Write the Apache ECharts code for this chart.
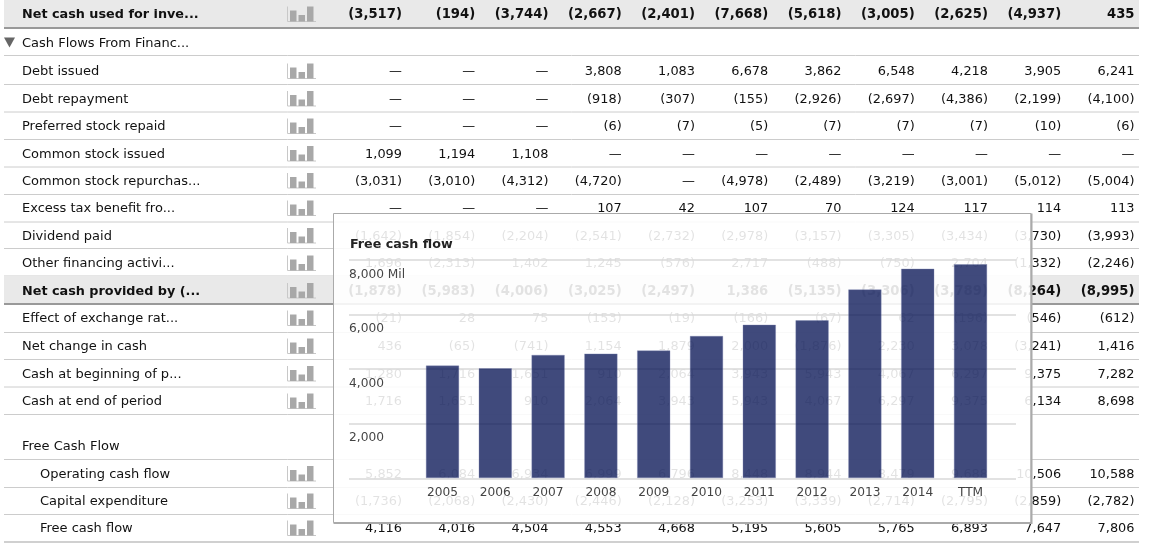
<!DOCTYPE html>
<html>
<head>
<meta charset="utf-8">
<title>Free cash flow</title>
<script src="https://cdn.jsdelivr.net/npm/echarts@6/dist/echarts.min.js"></script>
<style>
html, body { margin: 0; padding: 0; background: #fff; }
#chartBar { width: 1152px; height: 545px; }
</style>
</head>
<body>
<div id="chartBar"></div>
<script>
// periods, one column per year
var periods = ['2005', '2006', '2007', '2008', '2009', '2010', '2011', '2012', '2013', '2014', 'TTM'];

// table rows, null is shown as a dash
var netCashInvesting = [-3517, -194, -3744, -2667, -2401, -7668, -5618, -3005, -2625, -4937, 435];
var debtIssued = [null, null, null, 3808, 1083, 6678, 3862, 6548, 4218, 3905, 6241];
var debtRepayment = [null, null, null, -918, -307, -155, -2926, -2697, -4386, -2199, -4100];
var preferredRepaid = [null, null, null, -6, -7, -5, -7, -7, -7, -10, -6];
var commonIssued = [1099, 1194, 1108, null, null, null, null, null, null, null, null];
var commonRepurchased = [-3031, -3010, -4312, -4720, null, -4978, -2489, -3219, -3001, -5012, -5004];
var excessTaxBenefit = [null, null, null, 107, 42, 107, 70, 124, 117, 114, 113];
var dividendPaid = [-1642, -1854, -2204, -2541, -2732, -2978, -3157, -3305, -3434, -3730, -3993];
var otherFinancing = [1696, -2313, 1402, 1245, -576, 2717, -488, -750, 2704, -1332, -2246];
var netCashProvided = [-1878, -5983, -4006, -3025, -2497, 1386, -5135, -3306, -3789, -8264, -8995];
var exchangeEffect = [-21, 28, 75, -153, -19, -166, -67, 62, -196, -546, -612];
var netChange = [436, -65, -741, 1154, 1879, 2000, -1876, 2230, 3078, -3241, 1416];
var cashBeginning = [1280, 1716, 1651, 910, 2064, 3943, 5943, 4067, 6297, 9375, 7282];
var cashEnd = [1716, 1651, 910, 2064, 3943, 5943, 4067, 6297, 9375, 6134, 8698];
var operatingCashFlow = [5852, 6084, 6934, 6999, 6796, 8448, 8944, 8479, 9688, 10506, 10588];
var capitalExpenditure = [-1736, -2068, -2430, -2446, -2128, -3253, -3339, -2714, -2795, -2859, -2782];
var freeCashFlow = [4116, 4016, 4504, 4553, 4668, 5195, 5605, 5765, 6893, 7647, 7806];

var rowLabels = ['Net cash used for inve...', 'Cash Flows From Financ...', 'Debt issued', 'Debt repayment',
    'Preferred stock repaid', 'Common stock issued', 'Common stock repurchas...', 'Excess tax benefit fro...',
    'Dividend paid', 'Other financing activi...', 'Net cash provided by (...', 'Effect of exchange rat...',
    'Net change in cash', 'Cash at beginning of p...', 'Cash at end of period', 'Free Cash Flow',
    'Operating cash flow', 'Capital expenditure', 'Free cash flow'];
var rowValues = [netCashInvesting, null, debtIssued, debtRepayment, preferredRepaid, commonIssued,
    commonRepurchased, excessTaxBenefit, dividendPaid, otherFinancing, netCashProvided, exchangeEffect,
    netChange, cashBeginning, cashEnd, null, operatingCashFlow, capitalExpenditure, freeCashFlow];

// layout of the table, in pixels
var rowCentres = [14, 42.5, 71, 98.5, 126, 153.5, 180.5, 208, 235.5, 263, 290.5, 318, 346, 373.5, 401, 446, 473.5, 501, 528];
var rowBottoms = [28, 55.5, 84.5, 112, 139.5, 167, 194.5, 222, 248.5, 276, 304, 332.5, 359.5, 387, 414.5, 459.5, 487.5, 514.5, 542];
var textShift = 0.8;
var boldRows = [0, 10];
var indentedRows = [16, 17, 18];
var labelFont = '13px "DejaVu Sans"';
var labelBoldFont = 'bold 12.8px "DejaVu Sans"';
var cellFont = '12.9px "DejaVu Sans"';
var cellBoldFont = 'bold 13.2px "DejaVu Sans"';

function formatCell(v) {
    if (v === null) {
        return '\u2014';
    }
    var s = Math.abs(v).toLocaleString('en-US');
    return v < 0 ? '(' + s + ')' : s;
}

// every table cell as one data item
var cells = [];
rowValues.forEach(function (values, r) {
    if (!values) {
        return;
    }
    values.forEach(function (v, c) {
        cells.push({col: c, row: r, text: formatCell(v)});
    });
});

function renderRow(params, api) {
    var r = params.dataIndex;
    var y = api.coord([0, rowCentres[r]])[1];
    var bottom = api.coord([0, rowBottoms[r]])[1];
    var bold = boldRows.indexOf(r) >= 0;
    var last = r === rowBottoms.length - 1;
    var children = [];
    if (bold) {
        var top = r === 0 ? 0 : api.coord([0, rowBottoms[r - 1]])[1];
        children.push({type: 'rect', shape: {x: 4, y: top, width: 1135, height: bottom - top}, style: {fill: '#e9e9e9'}});
    }
    children.push({
        type: 'line',
        shape: {x1: 4, y1: bottom, x2: 1139, y2: bottom},
        style: {stroke: bold ? '#999' : (last ? '#d0d0d0' : '#ccc'), lineWidth: bold || last ? 2 : 1}
    });
    children.push({
        type: 'text',
        style: {
            x: indentedRows.indexOf(r) >= 0 ? 40 : 22,
            y: y + textShift,
            text: rowLabels[r],
            fill: '#111',
            font: bold ? labelBoldFont : labelFont,
            align: 'left',
            verticalAlign: 'middle'
        }
    });
    if (rowValues[r]) {
        // small chart icon at the row's start
        var base = y + 7.5;
        children.push({type: 'line', shape: {x1: 287.5, y1: base - 15, x2: 287.5, y2: base}, style: {stroke: '#c8c8c8', lineWidth: 1}});
        children.push({type: 'line', shape: {x1: 287.5, y1: base, x2: 316, y2: base}, style: {stroke: '#c8c8c8', lineWidth: 1}});
        children.push({type: 'rect', shape: {x: 290, y: base - 11, width: 6.5, height: 11}, style: {fill: '#a8a8a8'}});
        children.push({type: 'rect', shape: {x: 298.5, y: base - 6.5, width: 6.5, height: 6.5}, style: {fill: '#a8a8a8'}});
        children.push({type: 'rect', shape: {x: 307, y: base - 15, width: 6.5, height: 15}, style: {fill: '#a8a8a8'}});
    } else if (r === 1) {
        children.push({type: 'polygon', shape: {points: [[4, y - 5], [15, y - 5], [9.5, y + 5]]}, style: {fill: '#666'}});
    }
    return {type: 'group', children: children};
}

function renderCell(params, api) {
    var cell = cells[params.dataIndex];
    var p = api.coord([cell.col, rowCentres[cell.row]]);
    var band = api.size([1, 0])[0];
    return {
        type: 'text',
        style: {
            x: p[0] + band / 2,
            y: p[1] + textShift,
            text: cell.text,
            fill: '#111',
            font: boldRows.indexOf(cell.row) >= 0 ? cellBoldFont : cellFont,
            align: 'right',
            verticalAlign: 'middle'
        }
    };
}

var chartBar = echarts.init(document.getElementById('chartBar'));
chartBar.setOption({
    animation: false,
    backgroundColor: '#fff',
    title: {
        text: 'Free cash flow',
        left: 350,
        top: 238.5,
        padding: 0,
        z: 5,
        textStyle: {fontFamily: 'DejaVu Sans', fontSize: 12.7, fontWeight: 'bold', color: '#222'}
    },
    tooltip: {show: false},
    grid: [
        {left: 328.75, right: 17.5, top: 0, bottom: 0},
        {left: 349, right: 136, top: 260, bottom: 66.7},
        {left: 416.1, right: 155.1, top: 258.8, bottom: 66.7}
    ],
    xAxis: [
        {gridIndex: 0, type: 'category', data: periods, show: false},
        {gridIndex: 1, type: 'value', min: 0, max: 1, show: false},
        {
            gridIndex: 2,
            type: 'category',
            data: periods,
            z: 5,
            axisLine: {show: false},
            axisTick: {show: false},
            axisLabel: {interval: 0, margin: 9, color: '#444', fontFamily: 'DejaVu Sans', fontSize: 12.2}
        }
    ],
    yAxis: [
        {gridIndex: 0, type: 'value', min: 0, max: 545, inverse: true, show: false},
        {
            gridIndex: 1,
            type: 'value',
            min: 0,
            max: 8000,
            interval: 2000,
            z: 3,
            axisLine: {show: false},
            axisTick: {show: false},
            splitLine: {show: true, lineStyle: {color: '#d8d8d8', width: 1.5}},
            axisLabel: {
                inside: true,
                margin: 0,
                align: 'left',
                verticalAlign: 'top',
                padding: [8.5, 0, 0, 0],
                color: '#444',
                fontFamily: 'DejaVu Sans',
                fontSize: 12.2,
                formatter: function (v) {
                    if (v === 0) {
                        return '';
                    }
                    var s = v.toLocaleString('en-US');
                    return v === 8000 ? s + ' Mil' : s;
                }
            }
        },
        {gridIndex: 2, type: 'value', min: 0, max: 8000, interval: 2000, show: false}
    ],
    graphic: [
        {
            type: 'rect',
            z: 2,
            silent: true,
            shape: {x: 333.5, y: 213.5, width: 697.5, height: 309},
            style: {fill: 'rgba(255,255,255,0.88)', stroke: '#aaa', lineWidth: 1}
        },
        {
            type: 'polyline',
            z: 2,
            silent: true,
            shape: {points: [[1031.5, 213.5], [1031.5, 523], [333.5, 523]]},
            style: {fill: 'none', stroke: '#aaa', lineWidth: 2}
        }
    ],
    series: [
        {
            type: 'custom',
            name: 'rows',
            xAxisIndex: 0,
            yAxisIndex: 0,
            z: 1,
            silent: true,
            clip: false,
            data: rowLabels.map(function (label, r) { return [0, rowCentres[r]]; }),
            encode: {x: 0, y: 1},
            renderItem: renderRow
        },
        {
            type: 'custom',
            name: 'cells',
            xAxisIndex: 0,
            yAxisIndex: 0,
            z: 1,
            silent: true,
            clip: false,
            data: cells.map(function (c) { return [c.col, rowCentres[c.row]]; }),
            encode: {x: 0, y: 1},
            renderItem: renderCell
        },
        {
            type: 'bar',
            name: 'Free cash flow',
            xAxisIndex: 2,
            yAxisIndex: 2,
            z: 4,
            barWidth: 33.6,
            silent: true,
            itemStyle: {color: 'rgba(0,13,80,0.75)', borderColor: 'rgba(120,130,175,0.35)', borderWidth: 1},
            data: freeCashFlow
        }
    ]
});
</script>
</body>
</html>
